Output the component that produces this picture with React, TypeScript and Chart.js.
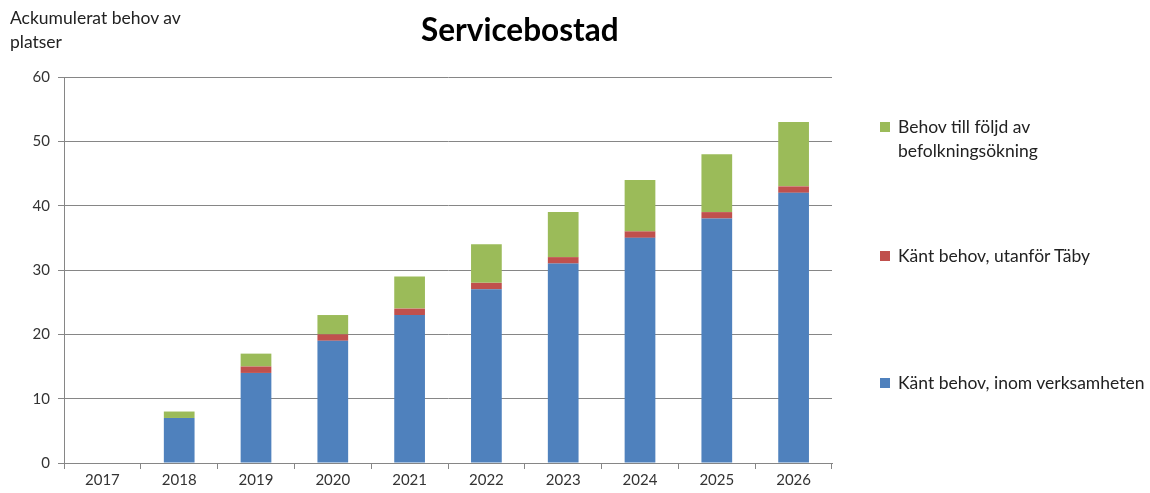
import React, { useEffect, useRef } from "react";
import { Chart, registerables } from "chart.js";

Chart.register(...registerables);

const years = ["2017", "2018", "2019", "2020", "2021", "2022", "2023", "2024", "2025", "2026"];
const kantInom = [0, 7, 14, 19, 23, 27, 31, 35, 38, 42];
const kantUtanfor = [0, 0, 1, 1, 1, 1, 1, 1, 1, 1];
const befolkning = [0, 1, 2, 3, 5, 6, 7, 8, 9, 10];
const yTicks = [0, 10, 20, 30, 40, 50, 60];

const FONT = "Lato, 'Open Sans', sans-serif";

const legendItems = [
  { label: ["Behov till följd av", "befolkningsökning"], color: "#9BBB59", top: 115 },
  { label: ["Känt behov, utanför Täby"], color: "#C0504D", top: 244 },
  { label: ["Känt behov, inom verksamheten"], color: "#4F81BD", top: 371 },
];

export default function App() {
  const ref = useRef<HTMLCanvasElement | null>(null);

  useEffect(() => {
    if (!ref.current) return;
    const chart = new Chart(ref.current, {
      type: "bar",
      data: {
        labels: years,
        datasets: [
          { label: "Känt behov, inom verksamheten", data: kantInom, backgroundColor: "#4F81BD" },
          { label: "Känt behov, utanför Täby", data: kantUtanfor, backgroundColor: "#C0504D" },
          { label: "Behov till följd av befolkningsökning", data: befolkning, backgroundColor: "#9BBB59" },
        ],
      },
      options: {
        animation: false,
        responsive: false,
        maintainAspectRatio: false,
        layout: { padding: { left: 0, top: 77, right: 1150 - 832, bottom: 0 } },
        plugins: { legend: { display: false }, title: { display: false }, tooltip: { enabled: false } },
        datasets: { bar: { categoryPercentage: 0.8, barPercentage: 0.5 } },
        scales: {
          x: {
            stacked: true,
            grid: { display: true, drawOnChartArea: false, drawTicks: true, tickLength: 6, color: "#868686", offset: true },
            border: { color: "#868686" },
            ticks: { color: "#333", font: { family: FONT, size: 15 }, padding: 2 },
            afterFit: (s: any) => { s.height = 493 - 463; },
          },
          y: {
            stacked: true,
            min: 0,
            max: 60,
            afterBuildTicks: (s: any) => { s.ticks = yTicks.map((v) => ({ value: v })); },
            grid: { color: "#868686", tickLength: 6 },
            border: { color: "#868686" },
            ticks: { color: "#333", font: { family: FONT, size: 15 }, padding: 8 },
            afterFit: (s: any) => { s.width = 64; },
          },
        },
      },
    });
    return () => chart.destroy();
  }, []);

  return (
    <div style={{ position: "fixed", left: 0, top: 0, width: 1150, height: 493, background: "#fff", fontFamily: FONT }}>
      <canvas ref={ref} width={1150} height={493} style={{ position: "absolute", left: 0, top: 0 }} />
      <div style={{ position: "absolute", left: 421, top: 9, fontSize: 31.5, fontWeight: 700, color: "#000", lineHeight: "40px" }}>
        Servicebostad
      </div>
      <div style={{ position: "absolute", left: 10, top: 6, fontSize: 17.5, color: "#222", lineHeight: "24px" }}>
        Ackumulerat behov av
        <br />
        platser
      </div>
      {legendItems.map((it) => (
        <div key={it.color} style={{ position: "absolute", left: 880, top: it.top, display: "flex" }}>
          <div style={{ width: 10, height: 10, background: it.color, marginTop: 7, marginRight: 8 }} />
          <div style={{ fontSize: 17.5, color: "#222", lineHeight: "24px" }}>
            {it.label.map((l, i) => (
              <div key={i}>{l}</div>
            ))}
          </div>
        </div>
      ))}
    </div>
  );
}
